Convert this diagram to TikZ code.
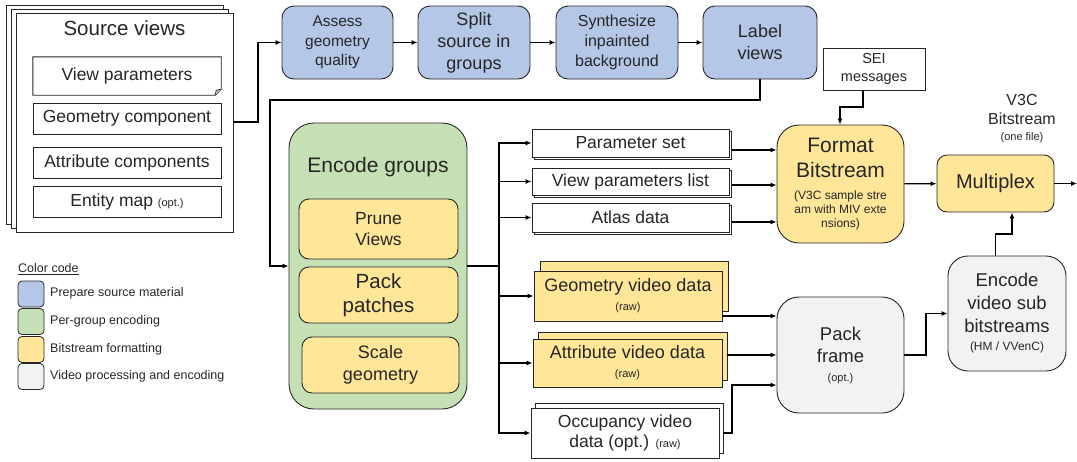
\documentclass[tikz,border=0pt]{standalone}
\usepackage{fontspec}
\setmainfont{Liberation Sans}
\usetikzlibrary{arrows.meta,shadows,calc}
\definecolor{cblue}{HTML}{B4C7E7}
\definecolor{cgreen}{HTML}{C5E0B4}
\definecolor{cyellow}{HTML}{FFE699}
\definecolor{cgray}{HTML}{F2F2F2}
\definecolor{ink}{HTML}{262626}
\newcommand{\fz}[2]{\fontsize{#1}{#2}\selectfont}
\tikzset{
  box/.style={draw=ink, line width=0.9pt, align=center, inner sep=1pt, text=ink, fill=white},
  topbox/.style={box, fill=cblue, rounded corners=12pt, minimum width=#1, minimum height=73},
  ylw/.style={box, fill=cyellow, rounded corners=10pt},
  lbl/.style={text=ink, inner sep=0pt, align=center},
  arr/.style={draw=black, line width=1.3pt, -{Latex[length=6pt,width=5pt]}},
  ln/.style={draw=black, line width=1.3pt},
  swatch/.style={draw=ink, line width=0.8pt, rounded corners=4pt, minimum width=26, minimum height=26},
  legtxt/.style={text=ink, inner sep=0pt, anchor=west, font=\fz{12.5}{14}},
}
\begin{document}
\begin{tikzpicture}[x=1pt, y=-1pt]
\useasboundingbox (0,0) rectangle (1077,461);

% ---------- Source views ----------
\node[box, minimum width=217, minimum height=219,
      double copy shadow={shadow xshift=-5pt, shadow yshift=4pt}] (src) at (124.5,122.5) {};
\node[lbl, font=\fz{20.5}{24}] (srct) at (124.5,28) {Source views};
\node[minimum width=188, minimum height=38, inner sep=0pt, text=ink, font=\fz{17.5}{20}] (vp) at (127,76) {View parameters};
\draw[draw=ink, line width=0.9pt] (vp.north west) -- (vp.north east) -- ([yshift=6pt]vp.south east)
   -- ([xshift=-6pt]vp.south east) -- (vp.south west) -- cycle;
\draw[draw=ink, line width=0.7pt, fill=gray!50] ([xshift=-6pt]vp.south east) -- ([xshift=-5pt,yshift=5pt]vp.south east) -- ([yshift=6pt]vp.south east);
\node[box, minimum width=188, minimum height=31, font=\fz{17.5}{20}] (geo) at (127,118.5) {Geometry component};
\node[box, minimum width=188, minimum height=31, font=\fz{17.5}{20}] (att) at (127,162.5) {Attribute components};
\node[box, minimum width=188, minimum height=31, font=\fz{17.5}{20}] (ent) at (127,201.5) {Entity map {\fz{11}{13}(opt.)}};

% ---------- Top row ----------
\node[topbox=111, font=\fz{15.5}{19.5}] (assess) at (337.5,42.5) {Assess\\geometry\\quality};
\node[topbox=112, font=\fz{18}{22}] (split) at (474,42.5) {Split\\source in\\groups};
\node[topbox=122, font=\fz{16}{20}] (synth) at (617,42.5) {Synthesize\\inpainted\\background};
\node[topbox=114, font=\fz{18}{22}] (label) at (760,42.5) {Label\\views};

\coordinate (j1) at (258,122);
\draw[arr] (src.east |- j1) -- (j1) |- (assess.west);
\draw[arr] (assess) -- (split);
\draw[arr] (split) -- (synth);
\draw[arr] (synth) -- (label);

% ---------- Encode groups ----------
\node[box, fill=cgreen, rounded corners=25pt, minimum width=178, minimum height=286] (enc) at (378,266) {};
\node[lbl, font=\fz{21}{25}] (enct) at (378,167) {Encode groups};
\node[ylw, minimum width=159, minimum height=60, font=\fz{17.5}{21}] (prune) at (378.5,229) {Prune\\Views};
\node[ylw, minimum width=159, minimum height=56, font=\fz{20.5}{24}] (pack) at (378.5,295) {Pack\\patches};
\node[ylw, minimum width=157, minimum height=56, font=\fz{18}{22}] (scale) at (380.5,365) {Scale\\geometry};

\coordinate (j2) at (270,100);
\draw[arr] (label.south) |- (j2) |- (enc.west);

% ---------- Outputs of encoder ----------
\node[box, minimum width=197, minimum height=28, font=\fz{17.5}{20},
      copy shadow={shadow xshift=2pt, shadow yshift=-2pt}] (ps) at (630.5,143) {Parameter set};
\node[box, minimum width=197, minimum height=27, font=\fz{17.5}{20},
      copy shadow={shadow xshift=2pt, shadow yshift=-2pt}] (vpl) at (630.5,181.5) {View parameters list};
\node[box, minimum width=197, minimum height=29, font=\fz{17.5}{20},
      copy shadow={shadow xshift=2pt, shadow yshift=-2pt}] (ad) at (630.5,217.5) {Atlas data};
\node[box, fill=cyellow, minimum width=188, minimum height=50, font=\fz{18}{19},
      copy shadow={shadow xshift=6pt, shadow yshift=10pt}] (gv) at (628,296) {Geometry video data\\{\fz{11}{13}(raw)}};
\node[box, fill=cyellow, minimum width=189, minimum height=48, font=\fz{18}{19},
      copy shadow={shadow xshift=5pt, shadow yshift=7pt}] (av) at (627.5,363) {Attribute video data\\{\fz{11}{13}(raw)}};
\node[box, minimum width=188, minimum height=50, font=\fz{17.5}{20},
      copy shadow={shadow xshift=4pt, shadow yshift=5pt}] (ov) at (625,433) {Occupancy video\\data (opt.) {\fz{11}{13}(raw)}};

\coordinate (bus) at (499,266);
\draw[ln] (enc.east) -- (bus);
\draw[arr] (bus) |- (ps.west);
\draw[arr] (bus) |- (vpl.west);
\draw[arr] (bus) |- (ad.west);
\draw[arr] (bus) |- (gv.west);
\draw[arr] (bus) |- (av.west);
\draw[arr] (bus) |- (ov.west);

% ---------- Format / SEI / Multiplex ----------
\node[box, fill=cyellow, rounded corners=22pt, minimum width=127, minimum height=118, font=\fz{21}{25}] (fmt) at (840.5,184)
  {Format\\Bitstream\\[-3pt]{\fz{12}{14}(V3C sample stre}\\[-11pt]{\fz{12}{14}am with MIV exte}\\[-11pt]{\fz{12}{14}nsions)}};
\node[box, minimum width=102, minimum height=42, font=\fz{14.5}{18}] (sei) at (874,69) {SEI\\messages};
\node[box, fill=cyellow, rounded corners=10pt, minimum width=117, minimum height=57, font=\fz{20}{24}] (mux) at (995.5,183.5) {Multiplex};
\node[lbl, font=\fz{16}{19}] (v3c) at (1022,119) {V3C\\Bitstream\\[-3pt]{\fz{11}{13}(one file)}};

\coordinate (psO) at (732,150);
\coordinate (vplO) at (732,185);
\coordinate (adO) at (732,222);
\draw[arr] (psO) -- (psO -| fmt.west);
\draw[arr] (vplO) -- (vplO -| fmt.west);
\draw[arr] (adO) -- (adO -| fmt.west);

\coordinate (s1) at (863,107);
\coordinate (s2) at (840,107);
\draw[arr] (sei.south -| s1) -- (s1) -- (s2) -- (s2 |- fmt.north);

\draw[arr] (fmt) -- (mux);
\coordinate (outp) at (1077,183.5);
\draw[arr] (mux.east) -- (outp);

% ---------- Pack frame / Encode video ----------
\node[box, fill=cgray, rounded corners=22pt, minimum width=127, minimum height=116, font=\fz{18.5}{22}] (pf) at (840.5,355)
  {Pack\\frame\\[-3pt]{\fz{11}{13}(opt.)}};
\node[box, fill=cgray, rounded corners=20pt, minimum width=118, minimum height=115, font=\fz{18.5}{23}] (ev) at (1007,313.5)
  {Encode\\video sub\\bitstreams\\[-5pt]{\fz{12}{14}(HM / VVenC)}};

\coordinate (gvO) at (722,316);
\coordinate (avO) at (727,355);
\coordinate (ovO) at (723,433);
\coordinate (ovB) at (732,385);
\draw[arr] (gvO) -- (gvO -| pf.west);
\draw[arr] (avO) -- (avO -| pf.west);
\draw[arr] (ovO) -| (ovB) -- (ovB -| pf.west);

\coordinate (k0) at (926,355);
\draw[arr] (pf.east) -- (k0) |- (ev.west);

\coordinate (k1) at (1012,234);
\draw[arr] (ev.north -| mux.south) |- (k1) -- (k1 |- mux.south);

% ---------- Legend ----------
\node[lbl, anchor=west, font=\fz{12.5}{14}] (cc) at (18,269) {\underline{Color code}};
\node[swatch, fill=cblue] (sw1) at (31,294) {};
\node[swatch, fill=cgreen] (sw2) at (31,321.5) {};
\node[swatch, fill=cyellow] (sw3) at (31,349.5) {};
\node[swatch, fill=cgray] (sw4) at (31,376.5) {};
\node[legtxt] (lt1) at (50,293) {Prepare source material};
\node[legtxt] (lt2) at (50,321) {Per-group encoding};
\node[legtxt] (lt3) at (50,349) {Bitstream formatting};
\node[legtxt] (lt4) at (50,376) {Video processing and encoding};
\end{tikzpicture}
\end{document}
